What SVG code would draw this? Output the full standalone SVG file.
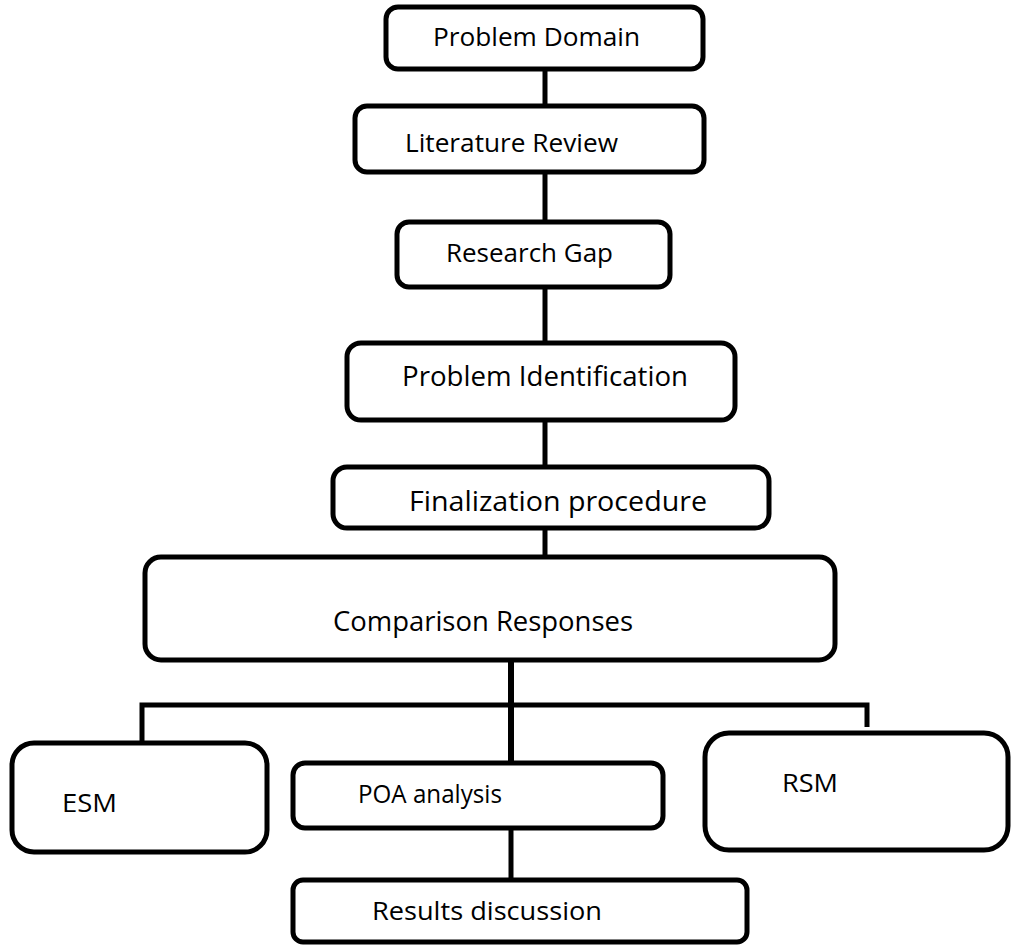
<svg xmlns="http://www.w3.org/2000/svg" width="1013" height="945" viewBox="0 0 1013 945">
  <style>
    .box { fill: #ffffff; stroke: #000000; stroke-width: 5; }
    .wire { fill: none; stroke: #000000; stroke-width: 5; stroke-linecap: butt; }
    .label { font-family: "Open Sans", "Noto Sans", "Liberation Sans", sans-serif; font-size: 25px; fill: #000000; }
    .tall { font-size: 27px; }
  </style>
  <rect width="1013" height="945" fill="#ffffff"/>

  <!-- connectors -->
  <g id="connectors">
    <line class="wire" x1="545" y1="69" x2="545" y2="106"/>
    <line class="wire" x1="545" y1="172" x2="545" y2="222"/>
    <line class="wire" x1="545" y1="287" x2="545" y2="343"/>
    <line class="wire" x1="545" y1="420" x2="545" y2="467"/>
    <line class="wire" x1="545" y1="528" x2="545" y2="557"/>
    <line class="wire" x1="511" y1="660" x2="511" y2="763" style="stroke-width:6"/>
    <polyline class="wire" points="142,742 142,705 867,705 867,727"/>
    <line class="wire" x1="511" y1="828" x2="511" y2="880"/>
  </g>

  <g id="problem-domain">
    <rect class="box" x="386" y="7" width="317" height="62" rx="12"/>
    <text class="label" x="433" y="46" textLength="207" lengthAdjust="spacingAndGlyphs">Problem Domain</text>
  </g>

  <g id="literature-review">
    <rect class="box" x="355" y="106" width="349" height="66" rx="12"/>
    <text class="label" x="405" y="152" textLength="213" lengthAdjust="spacingAndGlyphs">Literature Review</text>
  </g>

  <g id="research-gap">
    <rect class="box" x="397" y="222" width="273" height="65" rx="12"/>
    <text class="label" x="446" y="262" textLength="167" lengthAdjust="spacingAndGlyphs">Research Gap</text>
  </g>

  <g id="problem-identification">
    <rect class="box" x="347" y="343" width="388" height="77" rx="14"/>
    <text class="label tall" x="402" y="386" textLength="286" lengthAdjust="spacingAndGlyphs">Problem Identification</text>
  </g>

  <g id="finalization-procedure">
    <rect class="box" x="333" y="467" width="436" height="61" rx="14"/>
    <text class="label tall" x="409" y="511" textLength="298" lengthAdjust="spacingAndGlyphs">Finalization  procedure</text>
  </g>

  <g id="comparison-responses">
    <rect class="box" x="145" y="557" width="690" height="103" rx="16"/>
    <text class="label tall" x="333" y="631" textLength="300" lengthAdjust="spacingAndGlyphs">Comparison Responses</text>
  </g>

  <g id="esm">
    <rect class="box" x="12" y="743" width="255" height="109" rx="22"/>
    <text class="label" x="62" y="812" textLength="55" lengthAdjust="spacingAndGlyphs">ESM</text>
  </g>

  <g id="poa-analysis">
    <rect class="box" x="293" y="763" width="370" height="65" rx="12"/>
    <text class="label" x="358" y="803" textLength="144" lengthAdjust="spacingAndGlyphs">POA analysis</text>
  </g>

  <g id="rsm">
    <rect class="box" x="705" y="733" width="303" height="117" rx="24"/>
    <text class="label" x="782" y="792" textLength="56" lengthAdjust="spacingAndGlyphs">RSM</text>
  </g>

  <g id="results-discussion">
    <rect class="box" x="293" y="880" width="454" height="62" rx="10"/>
    <text class="label" x="372" y="920" textLength="230" lengthAdjust="spacingAndGlyphs">Results discussion</text>
  </g>
</svg>
